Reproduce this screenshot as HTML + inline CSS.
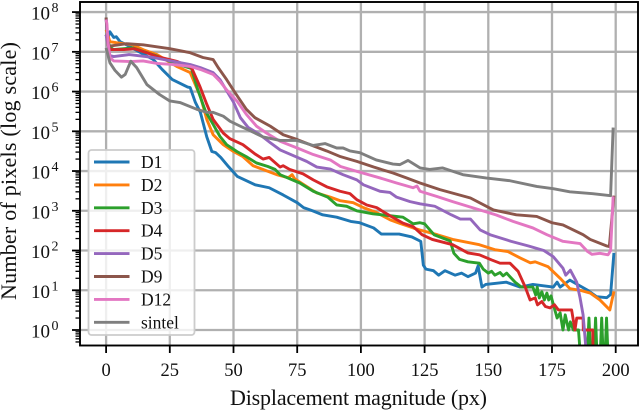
<!DOCTYPE html>
<html>
<head>
<meta charset="utf-8">
<title>Displacement magnitude histogram</title>
<style>
html,body{margin:0;padding:0;background:#fff;width:640px;height:410px;overflow:hidden}
svg{display:block}
text{font-family:"Liberation Serif",serif;fill:#111}
</style>
</head>
<body>
<svg id="chart" xmlns="http://www.w3.org/2000/svg" width="640" height="410" viewBox="0 0 640 410"></svg>
<script>
const xTicks = [0, 25, 50, 75, 100, 125, 150, 175, 200];
const yExponents = [0, 1, 2, 3, 4, 5, 6, 7, 8];
const seriesNames = ['D1', 'D2', 'D3', 'D4', 'D5', 'D9', 'D12', 'sintel'];

const d1Disp = [0,0.5,1.5,3,4,5.5,8,13,18.5,22,26,32,33,35,37,39.5,41.5,43,45,48,51.5,58.5,64,69.5,75,77.5,81,85,90.5,96,99.5,105,108,115,120,123.5,124.5,125.5,128.5,130.5,133,137,139.5,142,145,146,147.5,149,153,157,162.5,167.5,175.5,177,178.2,182,185,189,192.5,196.5,198,199.3];
const d1Count = [7.3e7,2e7,3.2e7,2.3e7,2.4e7,1.8e7,1.5e7,1e7,6.4e6,3.6e6,2e6,1.3e6,1.26e6,5.4e5,3e5,7.3e4,3.1e4,2.9e4,2.2e4,1.3e4,7.3e3,4.5e3,3.8e3,2.5e3,1.6e3,1.2e3,1e3,790,690,540,500,370,260,260,220,170,43,34,31,24,31,24,27,22,27,41,12,14,15,16,12,14,12,16,12,18,14,10,6.9,6.5,7.8,87];

const d2Disp = [0,1.5,4,10.5,15,20,27.7,33,35.5,37,39.5,42,46,50,53.7,57.7,61.5,67,71.5,73,74,78.7,82.7,88,91.8,97,101,106,111.5,115,120.5,123,130,136,146.5,152.5,157.7,162.5,166.5,168.4,173.5,178.2,182,186,190,193.8,197.7,199.3];
const d2Count = [3.6e7,1.8e7,1.7e7,1.5e7,1.1e7,8.5e6,4.3e6,3e6,1.26e6,7.6e5,2e5,8.2e4,4.6e4,3.1e4,2.3e4,1.36e4,1.1e4,8.1e3,6.8e3,8.1e3,6.4e3,4.1e3,2.8e3,2.2e3,1.8e3,1.6e3,1.2e3,910,590,490,370,330,250,190,140,105,94,65,49,52,39,20,11,10,8.5,5.7,3.2,9.4];

const d3Disp = [0,1.5,3,10.5,20,27,33.5,36,39,42,44.7,47.3,51.3,55,59,63.5,66.3,68.3,76,81.3,87,90.5,94.4,98.4,104.7,111.4,116.5,120.5,123.2,125,128.7,135,136.5,138.7,142,146.5,148,150,151.3,152.6,154.6,155.8,157.2,160.5,163,167.5,168.6,169.2,170,171,172,173,173.7,174.6,177,178.2,179.3,180.2,181.5,182.2,183.4,185.4,186,188.9,189.5,190.1,191.6,192.1,192.6,194,194.5,195,195.9,196.4,196.9];
const d3Count = [2.7e7,1.3e7,1.14e7,1.26e7,7.8e6,5.1e6,3.8e6,1.1e6,3.2e5,1.5e5,7.4e4,4.6e4,3.1e4,2.3e4,1.6e4,1.3e4,1.1e4,8.1e3,5e3,3.1e3,2.2e3,1.4e3,1.3e3,1e3,840,750,690,470,500,470,250,175,85,60,52,48,34,27,30,24,28,23,27,16,12,12,7.6,12,6.4,9.2,5.7,8.5,5.7,7.2,2,2.7,1,2.4,1,1.6,1,1,0.3,0.3,2,0.3,0.3,2,0.3,0.3,2,0.3,0.3,2,0.3];

const d4Disp = [0,1.5,7,11,17,20,28,33.5,36.8,39.5,42,46,48.6,53.7,58.4,61.6,64,68.3,69.5,72,77.3,81.3,86.6,91.8,95.7,98.4,102.3,106.2,111.4,116.5,120.5,124,128,136,142,146.5,151.3,154.6,158.5,161.7,164.5,166.4,168.4,169.3,171,172.4,174.2,176,177.5,181.3,182.7,184,184.7,187.2,187.3,191,191.1];
const d4Count = [2.7e7,1.14e7,1.14e7,1.2e7,9e6,7.6e6,5.7e6,4e6,1.35e6,4.8e5,2e5,9e4,6.5e4,4.6e4,2.7e4,2e4,2.2e4,1.26e4,1.36e4,1.1e4,8.5e3,6e3,4e3,3.1e3,2.7e3,1.9e3,1.4e3,1.2e3,750,490,400,250,190,140,87,78,58,48,48,30,12,5.7,6.4,4.3,5.2,3.9,3.6,4.3,3.2,3.2,3.2,1,2,2,1,1,0.3];

const d5Disp = [0,1.5,3,9,18.5,26,33,37,42,44.7,50,52.7,55.7,60.4,64.4,68.3,74.8,78.7,82.7,88,93,98.4,101,107.5,111.4,114,119.3,123.2,129,135.5,139,143,146.8,150.7,159,165.8,171.8,175.5,179.3,180.4,182.2,184.7,186,187.2,188.4];
const d5Count = [2.7e7,8e6,7.6e6,8.5e6,7.2e6,5.8e6,4.8e6,4e6,3e6,2e6,5.4e5,2.2e5,1.26e5,8.2e4,5.2e4,3.4e4,2.25e4,1.75e4,1.26e4,1.12e4,8.1e3,6e3,4.5e3,3.1e3,2.9e3,2.2e3,1.7e3,1.5e3,1.3e3,790,620,620,330,250,170,130,100,70,36,24,32,16,6.5,2.4,0.3];

const d9Disp = [0,0.8,1.5,8,14.5,25,33,38,42,44,47.3,50.6,55,58.4,64.4,69.5,75,81.3,86.6,92,98.4,105,112.6,118,123.2,131,143,152,161,169,175,179.3,187.2,190,196.5,197.5,199.3];
const d9Count = [7.3e7,1.45e7,1.4e7,1.6e7,1.5e7,1.2e7,9.5e6,7.2e6,6.4e6,4e6,2e6,9.4e5,3.6e5,2.2e5,1.35e5,8.2e4,6.2e4,4.3e4,3.2e4,2.3e4,1.75e4,1.26e4,8.9e3,6.7e3,5e3,3.4e3,2.1e3,1.05e3,790,720,500,440,250,190,130,126,2400];

const d12Disp = [0,0.3,0.8,1.5,3,9.5,14.5,20,26,33,37,42,44.7,47.3,51.3,55,59,63,68.3,75,81.3,88,92,98.4,107.5,114,120.5,122,123.2,129.7,136,143.7,153,159.7,167.5,173,179.3,186,189,190.7,193.8,197,198,199];
const d12Count = [6.5e7,5.2e7,1.7e7,7.2e6,5.9e6,5.7e6,5.9e6,5.1e6,4.8e6,4.3e6,3.6e6,2.7e6,1.8e6,1.1e6,5.8e5,2.7e5,1.35e5,9e4,5.6e4,3.8e4,2.6e4,1.9e4,1.3e4,9.8e3,6.7e3,5e3,3.8e3,4.2e3,3.1e3,2.3e3,1.7e3,1.2e3,790,540,370,250,170,150,94,80,85,78,100,2300];

const sintelDisp = [0,1.5,3.5,6,7.5,9.7,12,16,21,25,29,35.5,39.5,42,46,48.6,52.6,57,61.6,68.3,74.8,81.3,86,90.5,93,95.7,99.6,106,112.6,115.3,118.5,123.2,127,132,140,149,158.5,169,175.5,182,191,198,199];
const sintelCount = [1.26e7,5.3e6,3.4e6,2.3e6,2.7e6,5.8e6,4e6,1.5e6,8.4e5,5.8e5,5.3e5,3.6e5,3e5,3e5,2.4e5,1.8e5,1.35e5,1e5,7.2e4,5.9e4,5.9e4,4.4e4,4.9e4,3.8e4,3.8e4,3.2e4,2.9e4,1.9e4,1.5e4,1.45e4,1.85e4,1.2e4,1.1e4,1.2e4,8.1e3,6.7e3,5.7e3,4.1e3,3.6e3,3e3,2.7e3,2.4e3,1.24e5];

const seriesDisp = [d1Disp, d2Disp, d3Disp, d4Disp, d5Disp, d9Disp, d12Disp, sintelDisp];
const seriesCount = [d1Count, d2Count, d3Count, d4Count, d5Count, d9Count, d12Count, sintelCount];
const seriesColors = ['#1f77b4', '#ff7f0e', '#2ca02c', '#d62728', '#9467bd', '#8c564b', '#e377c2', '#7f7f7f'];

const NS = 'http://www.w3.org/2000/svg';
const svg = document.getElementById('chart');
const plotLeft = 80, plotRight = 638, plotTop = 2, plotBottom = 345.5;
function xScale(d) { return 106.1 + 2.548 * d; }
function yScale(v) { return 330 - 39.74 * Math.log10(v); }
function make(tag, attrs, parent) {
  const el = document.createElementNS(NS, tag);
  for (const k in attrs) el.setAttribute(k, attrs[k]);
  (parent || svg).appendChild(el);
  return el;
}

const defs = make('defs', {});
const clip = make('clipPath', { id: 'plot-clip' }, defs);
make('rect', { x: plotLeft, y: plotTop, width: plotRight - plotLeft, height: plotBottom - plotTop }, clip);

// grid
const gridGroup = make('g', { stroke: '#b0b0b0', 'stroke-width': 2.3, fill: 'none' });


xTicks.forEach(function (t) {
  const line = make('line', { x1: xScale(t), x2: xScale(t), y1: plotTop, y2: plotBottom }, gridGroup);
  
  
});
yExponents.forEach(function (e) {
  const py = yScale(Math.pow(10, e));
  const line = make('line', { x1: plotLeft, x2: plotRight, y1: py, y2: py }, gridGroup);
  
  
});

// series
const seriesGroup = make('g', { 'clip-path': 'url(#plot-clip)', fill: 'none', 'stroke-width': 2.9, 'stroke-linejoin': 'round' });


seriesNames.forEach(function (name, i) {
  const pts = seriesDisp[i].map(function (d, j) {
    return xScale(d).toFixed(2) + ',' + yScale(seriesCount[i][j]).toFixed(2);
  }).join(' ');
  const line = make('polyline', { points: pts, stroke: seriesColors[i] }, seriesGroup);
  
  
});

// legend
const legend = make('g', {});


const legendFrame = make('rect', { x: 88.5, y: 150, width: 106, height: 185, rx: 3, fill: '#fff', 'fill-opacity': 0.8, stroke: '#cccccc', 'stroke-width': 1.8 }, legend);


seriesNames.forEach(function (name, i) {
  const rowY = 162 + i * 22.9;
  const sw = make('line', { x1: 94, x2: 129.5, y1: rowY, y2: rowY, stroke: seriesColors[i], 'stroke-width': 2.9 }, legend);
  
  
  const label = make('text', { x: 141, y: rowY + 6, 'font-size': 17.5 }, legend);
  label.textContent = name;
  
  
});

// ticks
const tickGroup = make('g', { stroke: '#000', fill: 'none' });


xTicks.forEach(function (t) {
  make('line', { x1: xScale(t), x2: xScale(t), y1: plotBottom, y2: plotBottom + 7.5, 'stroke-width': 1.8 }, tickGroup);
  const lab = make('text', { x: xScale(t), y: 376, 'font-size': 18.5, 'text-anchor': 'middle' });
  lab.textContent = String(t);
  
  
});
for (let e = -1; e <= 8; e++) {
  for (let m = 2; m <= 9; m++) {
    const py = yScale(m * Math.pow(10, e));
    if (py > plotTop && py < plotBottom) {
      make('line', { x1: plotLeft, x2: plotLeft - 4.5, y1: py, y2: py, 'stroke-width': 1.3 }, tickGroup);
    }
  }
}
yExponents.forEach(function (e) {
  const py = yScale(Math.pow(10, e));
  make('line', { x1: plotLeft, x2: plotLeft - 8, y1: py, y2: py, 'stroke-width': 1.8 }, tickGroup);
  const lab = make('text', { x: 31, y: py + 7.5, 'font-size': 19 });
  lab.textContent = '10';
  
  
  const sup = make('text', { x: 51.5, y: py, 'font-size': 14 });
  sup.textContent = String(e);
  
  
});

// frame
const frame = make('rect', { x: plotLeft, y: plotTop, width: plotRight - plotLeft, height: plotBottom - plotTop, fill: 'none', stroke: '#000', 'stroke-width': 1.9 });



// axis titles
const xTitle = make('text', { x: 358.5, y: 405, 'font-size': 22, 'text-anchor': 'middle', textLength: 257, lengthAdjust: 'spacing' });
xTitle.textContent = 'Displacement magnitude (px)';


const yTitle = make('text', { transform: 'translate(16,171) rotate(-90)', 'font-size': 22, 'text-anchor': 'middle', textLength: 258, lengthAdjust: 'spacing' });
yTitle.textContent = 'Number of pixels (log scale)';


</script>
</body>
</html>
